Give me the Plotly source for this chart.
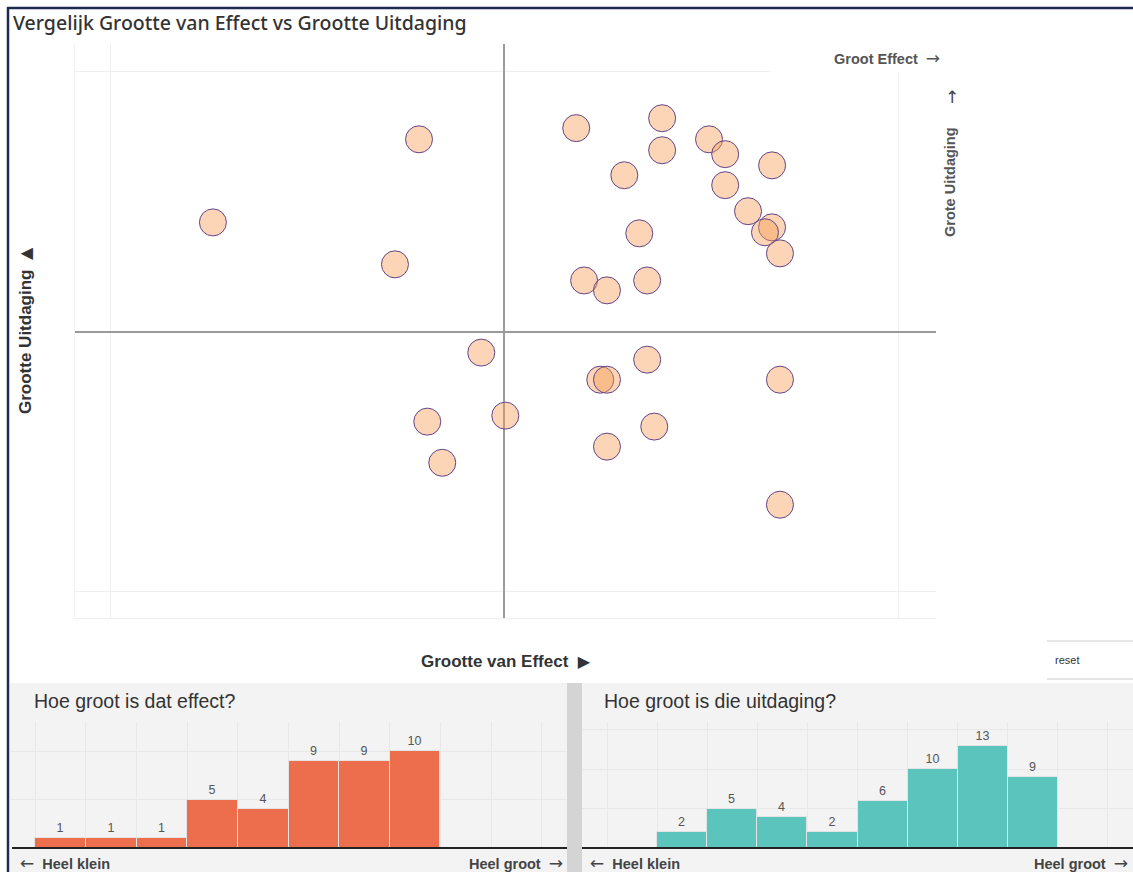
import plotly.graph_objects as go

# ---------------- data ----------------
effect_x = [-0.216, -0.739, -0.277, 0.183, 0.401, 0.401, 0.520, 0.561, 0.305, 0.680,
            0.561, 0.619, 0.680, 0.662, 0.343, 0.700, 0.203, 0.261, 0.363, -0.058,
            0.363, 0.244, 0.261, 0.700, 0.003, -0.195, 0.381, 0.261, -0.157, 0.700]
uitdaging_y = [0.738, 0.419, 0.258, 0.781, 0.819, 0.696, 0.738, 0.681, 0.600, 0.638,
               0.562, 0.462, 0.400, 0.381, 0.377, 0.300, 0.196, 0.158, 0.196, -0.081,
               -0.108, -0.185, -0.185, -0.185, -0.323, -0.346, -0.365, -0.442, -0.504, -0.665]

effect_bins = [1, 2, 3, 4, 5, 6, 7, 8]
effect_counts = [1, 1, 1, 5, 4, 9, 9, 10]
uitdaging_bins = [2, 3, 4, 5, 6, 7, 8, 9]
uitdaging_counts = [2, 5, 4, 2, 6, 10, 13, 9]

hist_gridlines = [0.5, 1.5, 2.5, 3.5, 4.5, 5.5, 6.5, 7.5, 8.5, 9.5, 10.5]

W, H = 1133, 872


def px(x):
    return x / W


def py(y):
    return 1 - y / H


def arrow(ch, size=17):
    return f"<span style='font-family:DejaVu Sans;font-size:{size}px;font-weight:normal'>{ch}</span>"


fig = go.Figure()

fig.add_trace(go.Scatter(
    x=effect_x, y=uitdaging_y, mode="markers",
    marker=dict(size=27, color="rgba(245,155,80,0.42)",
                line=dict(color="#634589", width=1)),
    xaxis="x", yaxis="y", showlegend=False, hoverinfo="x+y"))

fig.add_trace(go.Bar(
    x=effect_bins, y=effect_counts, width=1,
    marker=dict(color="#EC6E4C", line=dict(color="#E4E4E4", width=1)),
    text=effect_counts, textposition="outside", cliponaxis=False,
    textfont=dict(size=12.5, color="#555555", family="Liberation Sans, Arial"),
    xaxis="x2", yaxis="y2", showlegend=False))

fig.add_trace(go.Bar(
    x=uitdaging_bins, y=uitdaging_counts, width=1,
    marker=dict(color="#5BC4BD", line=dict(color="#E4E4E4", width=1)),
    text=uitdaging_counts, textposition="outside", cliponaxis=False,
    textfont=dict(size=12.5, color="#555555", family="Liberation Sans, Arial"),
    xaxis="x3", yaxis="y3", showlegend=False))

P = dict(xref="paper", yref="paper")
shapes = []
# bottom gray panels
shapes.append(dict(type="rect", **P, x0=px(10), x1=px(567),
                   y0=py(872), y1=py(683), fillcolor="#F3F3F3", line=dict(width=0), layer="below"))
shapes.append(dict(type="rect", **P, x0=px(582), x1=px(1133),
                   y0=py(872), y1=py(683), fillcolor="#F3F3F3", line=dict(width=0), layer="below"))
shapes.append(dict(type="rect", **P, x0=px(567), x1=px(582),
                   y0=py(872), y1=py(683), fillcolor="#D4D4D4", line=dict(width=0), layer="below"))
# white box behind "Groot Effect" label (covers gridlines)
shapes.append(dict(type="rect", **P, x0=px(770), x1=px(945),
                   y0=py(73), y1=py(44), fillcolor="white", line=dict(width=0), layer="above"))
# navy border
shapes.append(dict(type="line", **P, x0=px(7), x1=px(1133),
                   y0=py(8), y1=py(8), line=dict(color="#1F2A50", width=2.5)))
shapes.append(dict(type="line", **P, x0=px(8), x1=px(8),
                   y0=py(7), y1=py(872), line=dict(color="#1F2A50", width=2.5)))
# reset box lines
shapes.append(dict(type="line", **P, x0=px(1047), x1=px(1133),
                   y0=py(641), y1=py(641), line=dict(color="#CCCCCC", width=1)))
shapes.append(dict(type="line", **P, x0=px(1047), x1=px(1133),
                   y0=py(679), y1=py(679), line=dict(color="#CCCCCC", width=1)))
# histogram baselines
shapes.append(dict(type="line", **P, x0=px(12), x1=px(567),
                   y0=py(848), y1=py(848), line=dict(color="#222222", width=2)))
shapes.append(dict(type="line", **P, x0=px(582), x1=px(1133),
                   y0=py(848), y1=py(848), line=dict(color="#222222", width=2)))

bold = "Liberation Sans, Arial"
tri = "<span style='font-family:DejaVu Sans;font-size:16px'>{}</span>"
annotations = [
    dict(text="Vergelijk Grootte van Effect vs Grootte Uitdaging", x=px(11), y=py(22),
         xanchor="left", yanchor="middle",
         font=dict(family="Noto Sans", size=19.5, color="#333333", weight=500)),
    dict(text="<b>Groot Effect</b>  " + arrow("→"), x=px(942), y=py(58), xanchor="right",
         yanchor="middle", font=dict(family=bold, size=14.5, color="#555555")),
    dict(text=arrow("↑"), x=px(952), y=py(97), xanchor="center", yanchor="middle",
         font=dict(family=bold, size=15, color="#444444")),
    dict(text="<b>Grote Uitdaging</b>", x=px(950), y=py(182), xanchor="center", yanchor="middle",
         textangle=-90, font=dict(family=bold, size=14.5, color="#555555")),
    dict(text="<b>Grootte Uitdaging</b>  " + tri.format("▲"), x=px(25), y=py(331),
         xanchor="center", yanchor="middle",
         textangle=-90, font=dict(family=bold, size=17, color="#333333")),
    dict(text="<b>Grootte van Effect</b>  " + tri.format("▶"), x=px(506), y=py(661),
         xanchor="center", yanchor="middle",
         font=dict(family=bold, size=17, color="#333333")),
    dict(text="reset", x=px(1053), y=py(660), xanchor="left", yanchor="middle",
         font=dict(family=bold, size=11, color="#333333")),
    dict(text="Hoe groot is dat effect?", x=px(32), y=py(701), xanchor="left", yanchor="middle",
         font=dict(family=bold, size=19.5, color="#333333")),
    dict(text="Hoe groot is die uitdaging?", x=px(602), y=py(701), xanchor="left", yanchor="middle",
         font=dict(family=bold, size=19.5, color="#333333")),
    dict(text=arrow("←") + "  <b>Heel klein</b>", x=px(18), y=py(863), xanchor="left", yanchor="middle",
         font=dict(family=bold, size=14.5, color="#444444")),
    dict(text="<b>Heel groot</b>  " + arrow("→"), x=px(565), y=py(863), xanchor="right", yanchor="middle",
         font=dict(family=bold, size=14.5, color="#444444")),
    dict(text=arrow("←") + "  <b>Heel klein</b>", x=px(588), y=py(863), xanchor="left", yanchor="middle",
         font=dict(family=bold, size=14.5, color="#444444")),
    dict(text="<b>Heel groot</b>  " + arrow("→"), x=px(1130), y=py(863), xanchor="right", yanchor="middle",
         font=dict(family=bold, size=14.5, color="#444444")),
]
for a in annotations:
    a.update(xref="paper", yref="paper", showarrow=False)

fig.update_layout(
    width=W, height=H, margin=dict(l=0, r=0, t=0, b=0),
    paper_bgcolor="white", plot_bgcolor="white",
    showlegend=False, bargap=0,
    xaxis=dict(domain=[px(75), px(936)], range=[-1.089, 1.096], tickvals=[-1, 0, 1],
               showticklabels=False, ticks="", gridcolor="#EFEFEF", gridwidth=1,
               zeroline=True, zerolinecolor="#9A9A9A", zerolinewidth=1.5,
               showline=True, linecolor="#F0F0F0", linewidth=1, mirror=False),
    yaxis=dict(domain=[py(618), py(44)], range=[-1.1, 1.104], tickvals=[-1, 0, 1],
               showticklabels=False, ticks="", gridcolor="#EFEFEF", gridwidth=1,
               zeroline=True, zerolinecolor="#9A9A9A", zerolinewidth=1.5,
               showline=True, linecolor="#F0F0F0", linewidth=1, mirror=False),
    xaxis2=dict(domain=[px(10), px(567)], range=[0, 11], tickvals=hist_gridlines,
                showticklabels=False, ticks="", gridcolor="#E8E8E8", zeroline=False,
                anchor="y2"),
    yaxis2=dict(domain=[py(848), py(722)], range=[0, 13], dtick=5, anchor="x2",
                showticklabels=False, ticks="", gridcolor="#E8E8E8", zeroline=False),
    xaxis3=dict(domain=[px(582), px(1133)], range=[0, 11], tickvals=hist_gridlines,
                showticklabels=False, ticks="", gridcolor="#E8E8E8", zeroline=False,
                anchor="y3"),
    yaxis3=dict(domain=[py(848), py(722)], range=[0, 16], dtick=5, anchor="x3",
                showticklabels=False, ticks="", gridcolor="#E8E8E8", zeroline=False),
    shapes=shapes, annotations=annotations,
)

fig.write_html(
    "out.html",
    config={"displayModeBar": False},
    post_script="document.body.style.margin='0';document.body.style.padding='0';"
                "document.body.style.overflow='hidden';",
)
